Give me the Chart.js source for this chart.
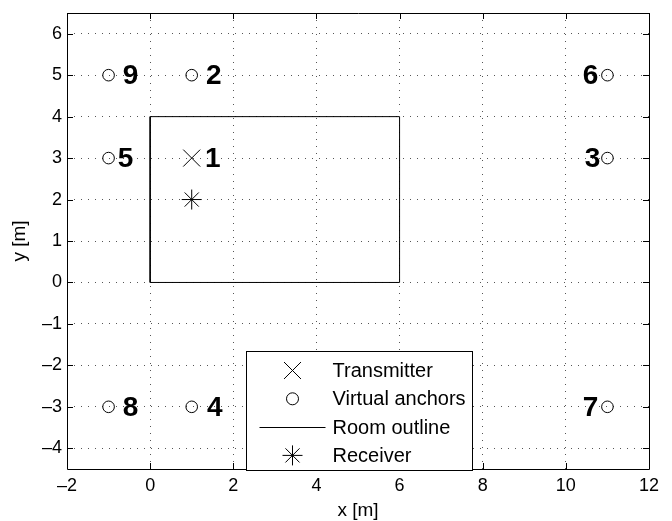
<!DOCTYPE html>
<html>
<head>
<meta charset="utf-8">
<script src="https://cdn.jsdelivr.net/npm/chart.js@4/dist/chart.umd.min.js"></script>
<style>
  html, body { margin: 0; padding: 0; background: #fff; }
  #wrap { width: 672px; height: 521px; }
</style>
</head>
<body>
<div id="wrap"><canvas id="c" width="672" height="521"></canvas></div>
<script>
// Geometry of the scene (metres)
const transmitter = [{ x: 1, y: 3 }];
const anchorX = [1, 11, 1, -1, 11, 11, -1, -1];
const anchorY = [5, 3, -3, 3, 5, -3, -3, 5];
const anchorNames = ['2', '3', '4', '5', '6', '7', '8', '9'];
const roomX = [0, 6, 6, 0, 0];
const roomY = [0, 0, 4, 4, 0];
const receiver = [{ x: 1, y: 2 }];
const transmitterName = '1';

// Axis ticks
const xTicks = [-2, 0, 2, 4, 6, 8, 10, 12];
const yTicks = [-4, -3, -2, -1, 0, 1, 2, 3, 4, 5, 6];

const seriesNames = ['Transmitter', 'Virtual anchors', 'Room outline', 'Receiver'];

const anchors = anchorX.map((x, i) => ({ x, y: anchorY[i] }));
const room = roomX.map((x, i) => ({ x, y: roomY[i] }));

const FONT = '"Liberation Sans", Arial, Helvetica, sans-serif';
const dashText = v => String(v).replace('-', '\u2013');

// Horizontal label shift (px) for each numbered point, by name
const labelShift = { '1': 21, '2': 22, '3': -15, '4': 23, '5': 17, '6': -17, '7': -17, '8': 22, '9': 22 };

// Box, inward tick marks, numbered labels and legend
const decorations = {
  id: 'decorations',
  afterDatasetsDraw(chart) {
    const { ctx, chartArea: a, scales: { x, y } } = chart;
    ctx.save();

    // numbered labels next to the points
    ctx.fillStyle = '#000';
    ctx.font = 'bold 28px ' + FONT;
    ctx.textAlign = 'center';
    ctx.textBaseline = 'middle';
    const put = (name, p) => {
      ctx.fillText(name, x.getPixelForValue(p.x) + labelShift[name], y.getPixelForValue(p.y) + 1);
    };
    put(transmitterName, transmitter[0]);
    anchors.forEach((p, i) => put(anchorNames[i], p));

    // axes box
    ctx.strokeStyle = '#000';
    ctx.lineWidth = 1;
    ctx.beginPath();
    ctx.rect(Math.round(a.left) + 0.5, Math.round(a.top) + 0.5,
             Math.round(a.right - a.left), Math.round(a.bottom - a.top));
    ctx.stroke();

    // inward tick marks on all four sides
    const L = 6;
    ctx.beginPath();
    x.ticks.forEach(t => {
      const px = Math.round(x.getPixelForValue(t.value)) + 0.5;
      ctx.moveTo(px, a.bottom); ctx.lineTo(px, a.bottom - L);
      ctx.moveTo(px, a.top); ctx.lineTo(px, a.top + L);
    });
    y.ticks.forEach(t => {
      const py = Math.round(y.getPixelForValue(t.value)) + 0.5;
      ctx.moveTo(a.left, py); ctx.lineTo(a.left + L, py);
      ctx.moveTo(a.right, py); ctx.lineTo(a.right - L, py);
    });
    ctx.stroke();

    // legend
    const bx = a.left + 179.5, by = a.top + 338.5, bw = 226, bh = 119;
    ctx.fillStyle = '#fff';
    ctx.fillRect(bx, by, bw, bh);
    ctx.strokeStyle = '#000';
    ctx.lineWidth = 1;
    ctx.strokeRect(bx, by, bw, bh);
    ctx.font = '20px ' + FONT;
    ctx.textAlign = 'left';
    ctx.textBaseline = 'middle';
    const markX = bx + 46, textX = bx + 86;
    chart.data.datasets.forEach((ds, i) => {
      const ry = by + 19 + i * 28.3;
      if (ds.showLine) {
        ctx.beginPath();
        ctx.strokeStyle = ds.borderColor;
        ctx.lineWidth = ds.borderWidth;
        ctx.moveTo(bx + 13, Math.round(ry) + 0.5);
        ctx.lineTo(bx + 79, Math.round(ry) + 0.5);
        ctx.stroke();
      } else {
        ctx.fillStyle = 'rgba(0,0,0,0)';
        ctx.strokeStyle = ds.pointBorderColor;
        ctx.lineWidth = ds.pointBorderWidth;
        Chart.helpers.drawPoint(ctx, {
          pointStyle: ds.pointStyle,
          radius: ds.legendRadius,
          rotation: 0,
          borderWidth: ds.pointBorderWidth
        }, markX, ry);
      }
      ctx.fillStyle = '#000';
      ctx.fillText(ds.label, textX, ry + 1);
    });
    ctx.restore();
  }
};

new Chart(document.getElementById('c'), {
  type: 'scatter',
  data: {
    datasets: [
      {
        label: seriesNames[0], data: transmitter,
        pointStyle: 'crossRot', pointRadius: 12, legendRadius: 12,
        pointBorderColor: '#000', pointBorderWidth: 1, pointBackgroundColor: 'transparent'
      },
      {
        label: seriesNames[1], data: anchors,
        pointStyle: 'circle', pointRadius: 5.8, legendRadius: 6,
        pointBorderColor: '#000', pointBorderWidth: 1, pointBackgroundColor: 'transparent'
      },
      {
        label: seriesNames[2], data: room, showLine: true,
        borderColor: '#000', borderWidth: 1, pointRadius: 0, tension: 0, fill: false
      },
      {
        label: seriesNames[3], data: receiver,
        pointStyle: 'star', pointRadius: 10, legendRadius: 10,
        pointBorderColor: '#000', pointBorderWidth: 1, pointBackgroundColor: 'transparent'
      }
    ]
  },
  options: {
    responsive: false,
    animation: false,
    events: [],
    layout: { padding: { top: 10, right: 23, left: 0, bottom: 0 } },
    plugins: { legend: { display: false }, tooltip: { enabled: false } },
    scales: {
      x: {
        type: 'linear', min: -2, max: 12,
        afterBuildTicks: s => { s.ticks = xTicks.map(v => ({ value: v })); },
        afterFit: s => { s.height = 52; s.paddingLeft = 0; s.paddingRight = 0; },
        ticks: { color: '#000', font: { family: FONT, size: 18 }, padding: 6, callback: dashText, maxRotation: 0 },
        grid: { color: '#555', drawTicks: false, lineWidth: 1 },
        border: { display: false, dash: [1, 6] },
        title: { display: true, text: 'x [m]', color: '#000', font: { family: FONT, size: 19, lineHeight: 1 }, padding: { top: 0, bottom: 1 } }
      },
      y: {
        type: 'linear', min: -4.5, max: 6.5,
        afterBuildTicks: s => { s.ticks = yTicks.map(v => ({ value: v })); },
        afterFit: s => { s.width = 67; s.paddingTop = 0; s.paddingBottom = 0; },
        ticks: { color: '#000', font: { family: FONT, size: 18 }, padding: 5, callback: dashText },
        grid: { color: '#555', drawTicks: false, lineWidth: 1 },
        border: { display: false, dash: [1, 6] },
        title: { display: true, text: 'y [m]', color: '#000', font: { family: FONT, size: 19 }, padding: { top: 8, bottom: 0 } }
      }
    }
  },
  plugins: [decorations]
});
</script>
</body>
</html>
